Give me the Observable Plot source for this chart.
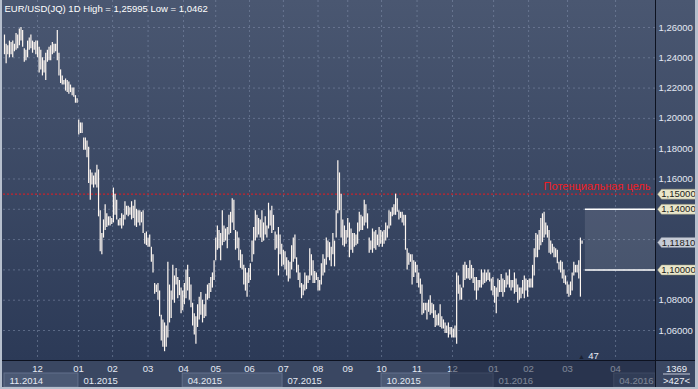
<!DOCTYPE html>
<html><head><meta charset="utf-8">
<script src="https://cdn.jsdelivr.net/npm/d3@7"></script>
<script src="https://cdn.jsdelivr.net/npm/@observablehq/plot@0.6"></script>
<style>
html,body{margin:0;padding:0;background:#2c3a57;}
#wrap{position:relative;width:698px;height:389px;overflow:hidden;
  background:linear-gradient(to bottom,#4a5771 0px,#2c3a57 360px);font-family:"Liberation Sans",Arial,sans-serif;}
#axisbg{position:absolute;left:0;top:360px;width:698px;height:29px;background:#3a4762;}
#wrap svg{position:absolute;left:0;top:0;}
.edge{position:absolute;background:#b6bfcd;}
</style></head>
<body><div id="wrap"><div id="axisbg"></div><div id="chart"></div>
<div class="edge" style="left:0;top:0;width:2px;height:389px"></div>
<div class="edge" style="left:695px;top:0;width:3px;height:389px"></div>
<div class="edge" style="left:0;top:387px;width:698px;height:2px"></div>
</div>
<script>
// ---- data (EUR/USD daily bars, index = trading day) ----
const titleText = "EUR/USD(JQ) 1D High = 1,25995 Low = 1,0462";
const high = [
1.255,1.249,1.248,1.251,1.250,1.251,1.249,1.256,1.255,1.259,
1.260,1.258,1.246,1.245,1.251,1.253,1.255,1.251,1.250,1.251,
1.251,1.247,1.245,1.240,1.238,1.243,1.245,1.247,1.248,1.250,
1.249,1.249,1.258,1.243,1.232,1.228,1.225,1.226,1.225,1.224,
1.222,1.220,1.220,1.215,1.213,1.199,1.197,1.197,1.187,1.187,
1.185,1.181,1.166,1.164,1.162,1.164,1.169,1.166,1.139,1.124,
1.133,1.143,1.137,1.135,1.135,1.134,1.154,1.150,1.146,1.133,
1.134,1.137,1.136,1.145,1.142,1.142,1.141,1.145,1.142,1.146,
1.140,1.139,1.139,1.138,1.139,1.124,1.125,1.121,1.123,1.115,
1.110,1.091,1.090,1.091,1.086,1.070,1.067,1.065,1.063,1.105,
1.090,1.086,1.103,1.096,1.101,1.095,1.093,1.088,1.086,1.091,
1.100,1.103,1.095,1.090,1.078,1.071,1.069,1.077,1.082,1.085,
1.080,1.077,1.084,1.090,1.091,1.095,1.098,1.106,1.121,1.129,
1.126,1.124,1.139,1.129,1.127,1.128,1.136,1.138,1.147,1.146,
1.126,1.125,1.121,1.113,1.110,1.103,1.101,1.098,1.101,1.104,
1.119,1.128,1.139,1.136,1.134,1.133,1.139,1.131,1.135,1.129,
1.144,1.139,1.142,1.136,1.125,1.123,1.128,1.123,1.117,1.113,
1.112,1.108,1.106,1.105,1.116,1.121,1.123,1.108,1.103,1.098,
1.091,1.090,1.098,1.096,1.096,1.114,1.110,1.106,1.099,1.098,
1.095,1.093,1.104,1.110,1.107,1.121,1.119,1.118,1.115,1.124,
1.119,1.139,1.172,1.164,1.150,1.133,1.129,1.126,1.134,1.131,
1.127,1.124,1.124,1.123,1.131,1.138,1.136,1.135,1.146,1.143,
1.137,1.121,1.119,1.127,1.125,1.126,1.123,1.128,1.126,1.125,
1.126,1.131,1.129,1.139,1.138,1.141,1.143,1.150,1.147,1.139,
1.138,1.138,1.136,1.136,1.114,1.111,1.110,1.110,1.106,1.105,
1.103,1.098,1.094,1.090,1.078,1.078,1.078,1.080,1.083,1.078,
1.077,1.073,1.070,1.071,1.077,1.069,1.067,1.065,1.063,1.065,
1.062,1.062,1.061,1.063,1.098,1.096,1.090,1.088,1.103,1.105,
1.103,1.101,1.106,1.103,1.101,1.095,1.095,1.093,1.093,1.100,
1.098,1.100,1.098,1.100,1.098,1.094,1.095,1.089,1.088,1.094,
1.093,1.097,1.094,1.093,1.098,1.096,1.100,1.093,1.093,1.098,
1.094,1.090,1.088,1.088,1.093,1.096,1.094,1.093,1.094,1.094,
1.103,1.114,1.124,1.123,1.126,1.134,1.137,1.138,1.131,1.129,
1.126,1.119,1.117,1.115,1.114,1.113,1.105,1.106,1.105,1.100,
1.096,1.092,1.090,1.092,1.098,1.105,1.103,1.103,1.106,1.121,
1.119];
const low = [
1.242,1.236,1.242,1.240,1.242,1.240,1.244,1.245,1.246,1.248,
1.251,1.247,1.237,1.238,1.240,1.245,1.246,1.243,1.245,1.242,
1.240,1.230,1.232,1.228,1.230,1.225,1.237,1.238,1.238,1.242,
1.243,1.244,1.238,1.228,1.223,1.222,1.222,1.218,1.217,1.216,
1.217,1.215,1.214,1.210,1.210,1.189,1.190,1.190,1.179,1.179,
1.174,1.157,1.146,1.156,1.154,1.156,1.154,1.135,1.112,1.110,
1.121,1.126,1.128,1.129,1.129,1.130,1.131,1.136,1.133,1.129,
1.129,1.127,1.129,1.133,1.136,1.135,1.136,1.133,1.134,1.129,
1.128,1.131,1.129,1.131,1.124,1.117,1.116,1.115,1.115,1.105,
1.098,1.084,1.085,1.080,1.069,1.053,1.049,1.046,1.049,1.055,
1.065,1.068,1.080,1.078,1.090,1.081,1.083,1.071,1.073,1.077,
1.081,1.086,1.080,1.075,1.063,1.057,1.051,1.062,1.067,1.070,
1.065,1.068,1.069,1.080,1.081,1.085,1.088,1.093,1.106,1.113,
1.114,1.106,1.116,1.118,1.119,1.114,1.123,1.124,1.131,1.126,
1.113,1.114,1.106,1.101,1.100,1.090,1.086,1.082,1.091,1.093,
1.105,1.110,1.119,1.121,1.123,1.121,1.118,1.119,1.123,1.121,
1.127,1.129,1.124,1.126,1.113,1.114,1.096,1.110,1.102,1.103,
1.100,1.096,1.092,1.094,1.100,1.105,1.107,1.098,1.093,1.088,
1.081,1.083,1.086,1.087,1.091,1.093,1.096,1.091,1.091,1.093,
1.086,1.086,1.090,1.096,1.098,1.103,1.108,1.106,1.102,1.110,
1.102,1.121,1.137,1.139,1.121,1.116,1.115,1.117,1.121,1.108,
1.113,1.111,1.115,1.116,1.117,1.125,1.126,1.126,1.129,1.131,
1.127,1.111,1.113,1.111,1.114,1.113,1.116,1.115,1.117,1.115,
1.117,1.119,1.121,1.127,1.129,1.135,1.136,1.136,1.138,1.133,
1.134,1.131,1.129,1.113,1.100,1.103,1.105,1.090,1.095,1.098,
1.091,1.088,1.084,1.070,1.071,1.073,1.067,1.072,1.070,1.071,
1.068,1.062,1.063,1.063,1.062,1.061,1.061,1.058,1.058,1.055,
1.057,1.055,1.055,1.055,1.051,1.084,1.080,1.080,1.088,1.093,
1.094,1.094,1.093,1.094,1.091,1.086,1.080,1.086,1.088,1.088,
1.090,1.091,1.092,1.093,1.092,1.086,1.083,1.078,1.071,1.082,
1.085,1.085,1.082,1.085,1.088,1.090,1.088,1.086,1.088,1.084,
1.085,1.078,1.080,1.081,1.084,1.081,1.086,1.082,1.088,1.088,
1.088,1.096,1.108,1.108,1.113,1.116,1.118,1.121,1.123,1.121,
1.111,1.110,1.111,1.108,1.108,1.104,1.100,1.098,1.094,1.091,
1.090,1.084,1.082,1.083,1.086,1.096,1.098,1.098,1.094,1.082,
1.117];
const monthTicks  = [20, 44.8, 65.5, 87, 108.5, 128, 148.5, 169, 190, 208, 228.5, 250, 271.5, 296.4, 317.6, 341.2, 370.3];
const monthLabels = ["12","01","02","03","04","05","06","07","08","09","10","11","12","01","02","03","04"];
const quarterStarts = [0, 44.8, 108, 168.5, 228.5, 296.4, 369.5];
const quarterLabels = ["11.2014","01.2015","04.2015","07.2015","10.2015","01.2016","04.2016"];
const gridLevels = [1.06,1.08,1.10,1.12,1.14,1.16,1.18,1.20,1.22,1.24,1.26];
const axisLevels = [1.06,1.08,1.16,1.18,1.20,1.22,1.24,1.26];
const tagValues = [1.15, 1.14, 1.1181, 1.10];
const tagKinds  = ["level","level","price","level"];
const targetLevel = 1.15;
const targetLabel = "Потенциальная цель";
const zone = {start: 352, low: 1.10, high: 1.14};
const navStart = 270.3;
const barsTotal = "1369", barsVisible = ">427<", barsRight = "47";

// ---- build ----
const xMin = -0.6, xMax = 394.5, yMin = 1.0402, yMax = 1.2778;
const bars = high.map((h, i) => ({i, high: h, low: low[i]})).filter(d => d.low != null);
const monthLabelOf = new Map(monthTicks.map((t, i) => [t, monthLabels[i]]));
const quarters = quarterStarts.map((s, i) => ({start: s, end: i + 1 < quarterStarts.length ? quarterStarts[i+1] : xMax, label: quarterLabels[i], shaded: i % 2 === 0}));
const tags = tagValues.map((v, i) => ({value: v, kind: tagKinds[i]}));
const fmt5 = v => v.toFixed(5).replace(".", ",");
const tagSymbol = {draw(ctx) { ctx.moveTo(0, 0); ctx.lineTo(4, -5); ctx.lineTo(38, -5); ctx.lineTo(38, 5); ctx.lineTo(4, 5); ctx.closePath(); }};
const grid = {stroke: "#8896b2", strokeOpacity: 0.5, strokeDasharray: "2,3"};
const light = "#e4e9f3";

const plot = Plot.plot({
  width: 698, height: 389,
  marginLeft: 3, marginRight: 43, marginTop: 0, marginBottom: 29,
  style: {background: "transparent", fontFamily: "'Liberation Sans', Arial, sans-serif", fontSize: "9.5px", overflow: "visible"},
  x: {type: "linear", domain: [xMin, xMax]},
  y: {type: "linear", domain: [yMin, yMax]},
  marks: [
    Plot.ruleY(gridLevels, grid),
    Plot.ruleX(monthTicks, grid),
    Plot.rect([zone], {x1: "start", x2: () => xMax, y1: "low", y2: "high", fill: "#ffffff", fillOpacity: 0.1}),
    Plot.ruleY([zone.high, zone.low], {x1: zone.start, x2: xMax, stroke: "#ffffff", strokeWidth: 1.5}),
    Plot.ruleY([targetLevel], {stroke: "#c8232c", strokeDasharray: "2,2", strokeWidth: 1.2}),
    Plot.text([targetLabel], {text: d => d, y: targetLevel, frameAnchor: "right", dx: -5, dy: -4.3, textAnchor: "end", lineAnchor: "bottom", fill: "#f01c22", fontSize: 11}),
    Plot.ruleX(bars, {x: "i", y1: "low", y2: "high", stroke: "#fff8f2", strokeWidth: 1.2}),
    // right price axis
    Plot.axisY(axisLevels, {anchor: "right", tickSize: 0, tickPadding: 3, tickFormat: fmt5, fill: light, fontSize: 9.5, label: null}),
    Plot.dot(tags.filter(d => d.kind === "level"), {y: "value", frameAnchor: "right", dx: 2, symbol: tagSymbol, fill: "#e9e6ca", stroke: "#8f8e78", strokeWidth: 0.5}),
    Plot.dot(tags.filter(d => d.kind === "price"), {y: "value", frameAnchor: "right", dx: 2, symbol: tagSymbol, fill: "#c6cbd6", stroke: "#80889a", strokeWidth: 0.5}),
    Plot.text(tags, {y: "value", text: d => fmt5(d.value), frameAnchor: "right", dx: 23, textAnchor: "middle", fill: "#1b1b1b", fontSize: 9.5}),
    // time axis
    Plot.rect(quarters.filter(d => d.shaded), {x1: "start", x2: "end", insetTop: 373, insetBottom: -27, fill: "#4b5974", stroke: "#63718b", strokeWidth: 1}),
    Plot.axisX(monthTicks, {anchor: "bottom", tickSize: 0, tickPadding: 5, tickFormat: d => monthLabelOf.get(d), fill: light, fontSize: 9.5, label: null}),
    Plot.text(quarters, {x: "start", text: "label", frameAnchor: "bottom", dx: 5, dy: 16.7, textAnchor: "start", lineAnchor: "top", fill: light, fontSize: 9.5}),
    Plot.rect([navStart], {x1: d => d, x2: () => xMax, insetTop: 361, insetBottom: -28, fill: "#18223a", fillOpacity: 0.5}),
    // separators
    Plot.ruleY([yMin], {stroke: "#0d1220", insetLeft: -3, insetRight: -43}),
    Plot.ruleX([xMax], {stroke: "#0d1220", insetBottom: -29}),
    // counters
    Plot.text([barsTotal], {text: d => d, frameAnchor: "bottom-right", dx: 21, dy: 4.3, lineAnchor: "top", textAnchor: "middle", fill: "#eef1f7", fontSize: 9.5}),
    Plot.ruleY([yMin], {dy: 13.5, insetLeft: 660, insetRight: -35, stroke: "#c3cad8"}),
    Plot.text([barsVisible], {text: d => d, frameAnchor: "bottom-right", dx: 21, dy: 16.6, lineAnchor: "top", textAnchor: "middle", fill: "#eef1f7", fontSize: 9.5}),
    Plot.text([barsRight], {text: d => d, frameAnchor: "bottom-right", dx: -62, dy: -1.5, lineAnchor: "bottom", textAnchor: "middle", fill: "#e8ecf4", fontSize: 9.5}),
    Plot.text(["▲"], {text: d => d, frameAnchor: "bottom-right", dx: -74, dy: -1.5, lineAnchor: "bottom", textAnchor: "middle", fill: "#1b2233", fontSize: 7}),
    // title
    Plot.text([titleText], {text: d => d, frameAnchor: "top-left", dx: 1, dy: 4.7, lineAnchor: "top", textAnchor: "start", fill: "#ffffff", fontSize: 9.5})
  ]
});
document.getElementById("chart").appendChild(plot);
</script>
</body></html>
